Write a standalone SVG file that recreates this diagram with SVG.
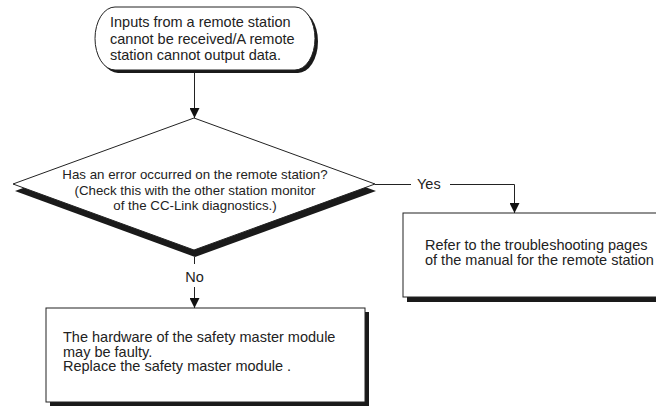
<svg xmlns="http://www.w3.org/2000/svg" width="656" height="407" viewBox="0 0 656 407">
<style>
.shape{fill:#fff;stroke:#222;stroke-width:1}
.shadow{fill:#1a1a1a;stroke:none}
.t{font-family:"Liberation Sans",Arial,sans-serif;font-size:14.5px;fill:#222}
.td{font-family:"Liberation Sans",Arial,sans-serif;font-size:13.3px;fill:#222}
.c{text-anchor:middle}
.line{fill:none;stroke:#222;stroke-width:1}
</style>
<defs>
<marker id="arr" viewBox="0 0 10 10" refX="10" refY="5" markerWidth="10" markerHeight="10" markerUnits="userSpaceOnUse" orient="auto">
<path d="M0,0 L10,5 L0,10 Z" fill="#111"/>
</marker>
</defs>
<rect width="656" height="407" fill="#fff"/>

<g id="start">
<rect class="shadow" x="98" y="10" width="220" height="63" rx="20" ry="31.5"/>
<rect class="shape" x="95" y="7" width="220" height="63" rx="20" ry="31.5"/>
<text class="t" x="110" y="27">Inputs from a remote station</text>
<text class="t" x="110" y="43.5">cannot be received/A remote</text>
<text class="t" x="110" y="60">station cannot output data.</text>
</g>

<g id="decision">
<polygon class="shadow" points="195,125 15,191 195,257 376,191"/>
<polygon class="shape" points="194,118 13,184 194,250 375,184"/>
<text class="td c" x="195" y="179">Has an error occurred on the remote station?</text>
<text class="td c" x="195" y="194.5">(Check this with the other station monitor</text>
<text class="td c" x="195" y="210">of the CC-Link diagnostics.)</text>
</g>

<g id="refer">
<rect class="shadow" x="407" y="217" width="270" height="85"/>
<rect class="shape" x="403" y="213" width="270" height="84"/>
<text class="t" x="425" y="250">Refer to the troubleshooting pages</text>
<text class="t" x="425" y="264.5">of the manual for the remote station</text>
</g>

<g id="replace">
<rect class="shadow" x="50" y="312" width="319" height="94"/>
<rect class="shape" x="46" y="308" width="319" height="94"/>
<text class="t" x="63" y="342">The hardware of the safety master module</text>
<text class="t" x="63" y="356.5">may be faulty.</text>
<text class="t" x="63" y="371">Replace the safety master module .</text>
</g>

<g id="connectors">
<path class="line" d="M194.5,73 V118" marker-end="url(#arr)"/>
<path class="line" d="M375,184.5 H411"/>
<path class="line" d="M450,184.5 H514.5 V213" marker-end="url(#arr)"/>
<text class="t" x="417" y="189">Yes</text>
<path class="line" d="M194.5,257 V264"/>
<text class="t c" x="194.5" y="282">No</text>
<path class="line" d="M194.5,287 V308" marker-end="url(#arr)"/>
</g>
</svg>
